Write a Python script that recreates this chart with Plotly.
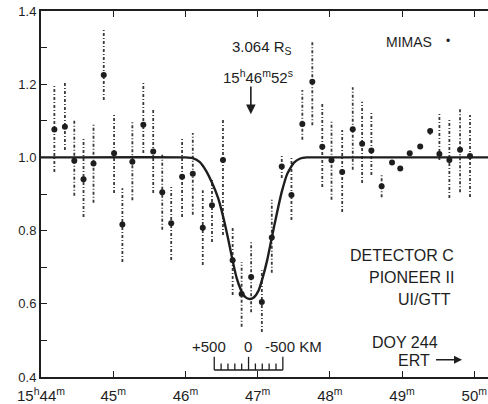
import plotly.graph_objects as go

# Observation times (minutes after 15h) and relative counting rate
t_min = [44.185, 44.331, 44.461, 44.589, 44.727, 44.869, 45.012, 45.127, 45.265, 45.417,
         45.554, 45.679, 45.803, 45.954, 46.102, 46.240, 46.368, 46.520, 46.654, 46.778,
         46.910, 47.058, 47.196, 47.334, 47.468, 47.619, 47.757, 47.895, 48.023, 48.171,
         48.317, 48.447, 48.575, 48.717, 48.861, 48.975, 49.106, 49.251, 49.389, 49.517,
         49.655, 49.803, 49.941]
rate = [1.076, 1.084, 0.991, 0.940, 0.983, 1.225, 1.011, 0.817, 0.988, 1.089,
        1.016, 0.905, 0.820, 0.947, 0.955, 0.808, 0.869, 0.993, 0.719, 0.627,
        0.673, 0.605, 0.781, 0.975, 0.897, 1.091, 1.207, 1.029, 0.992, 0.960,
        1.077, 1.037, 1.019, 0.921, 0.986, 0.970, 1.011, 1.030, 1.072, 1.009,
        0.993, 1.021, 1.004]
err_plus = [0.122, 0.119, 0.114, 0.110, 0.109, 0.123, 0.110, 0.099, 0.111, 0.117,
            0.119, 0.107, 0.099, 0.106, 0.112, 0.102, 0.070, 0.109, 0.091, 0.087,
            0.096, 0.087, 0.103, 0.032, 0.104, 0.093, 0.113, 0.119, 0.111, 0.115,
            0.115, 0.115, 0.105, 0.030, 0.0, 0.0, 0.0, 0.0, 0.010, 0.113,
            0.109, 0.114, 0.112]
err_minus = [0.116, 0.064, 0.096, 0.103, 0.107, 0.068, 0.108, 0.103, 0.105, 0.077,
             0.113, 0.103, 0.100, 0.110, 0.112, 0.102, 0.100, 0.205, 0.095, 0.090,
             0.096, 0.082, 0.096, 0.031, 0.068, 0.043, 0.119, 0.110, 0.108, 0.109,
             0.111, 0.107, 0.067, 0.030, 0.0, 0.0, 0.0, 0.0, 0.010, 0.016,
             0.104, 0.116, 0.112]

# Fitted occultation profile
fit_min = [44.0, 46.0, 46.10, 46.20, 46.29, 46.37, 46.451, 46.520, 46.589, 46.651, 46.71,
           46.768, 46.83, 46.892, 46.95, 47.016, 47.075, 47.133, 47.195, 47.264, 47.333,
           47.41, 47.50, 47.59, 47.68, 47.80, 50.19]
fit_val = [1.0, 1.0, 0.998, 0.987, 0.962, 0.93, 0.89, 0.84, 0.78, 0.72, 0.67,
           0.638, 0.618, 0.613, 0.618, 0.638, 0.675, 0.72, 0.78, 0.845, 0.905,
           0.955, 0.985, 0.997, 1.0, 1.0, 1.0]

x_ticks = [44, 45, 46, 47, 48, 49, 50]
x_ticktext = ["15<sup>h</sup>44<sup>m</sup>", "45<sup>m</sup>", "46<sup>m</sup>", "47<sup>m</sup>",
              "48<sup>m</sup>", "49<sup>m</sup>", "50<sup>m</sup>"]
y_ticks = [0.4, 0.5, 0.6, 0.7, 0.8, 0.9, 1.0, 1.1, 1.2, 1.3, 1.4]
y_ticktext = ["0.4", "", "0.6", "", "0.8", "", "1.0", "", "1.2", "", "1.4"]

# km scale bar
scale_km = [500, 400, 300, 200, 100, 0, -100, -200, -300, -400, -500]
scale_center_min = 46.874
min_per_km = 0.475 / 500.0

INK = "#1e1e1e"
FONT = "Liberation Sans"

fig = go.Figure()

# dotted error bars
ex, ey = [], []
for t, v, p, m in zip(t_min, rate, err_plus, err_minus):
    if p + m > 0:
        ex += [t, t, None]
        ey += [v - m, v + p, None]
fig.add_trace(go.Scatter(x=ex, y=ey, mode="lines",
                         line=dict(color="#3a3a3a", width=1.8, dash="3px,2px,1px,2px"),
                         hoverinfo="skip"))

fig.add_trace(go.Scatter(x=fit_min, y=fit_val, mode="lines",
                         line=dict(color=INK, width=2.4, shape="spline", smoothing=0.5)))

fig.add_trace(go.Scatter(x=t_min, y=rate, mode="markers",
                         marker=dict(color=INK, size=6)))

shapes = []
base_y = 0.419
x_left = scale_center_min + scale_km[0] * min_per_km
x_right = scale_center_min + scale_km[-1] * min_per_km
shapes.append(dict(type="line", x0=x_left, x1=x_right, y0=base_y, y1=base_y,
                   line=dict(color=INK, width=1.5)))
for km in scale_km:
    xx = scale_center_min + km * min_per_km
    h = 0.036 if km in (500, 0, -500) else 0.018
    shapes.append(dict(type="line", x0=xx, x1=xx, y0=base_y, y1=base_y + h,
                       line=dict(color=INK, width=1.3)))

ann = []
def txt(x, y, s, size=15, xanchor="center"):
    ann.append(dict(x=x, y=y, text=s, showarrow=False, xanchor=xanchor, yanchor="middle",
                    font=dict(family=FONT, size=size, color=INK)))

txt(47.06, 1.299, "3.064 R<sub>S</sub>", 15)
txt(47.00, 1.222, "15<sup>h</sup>46<sup>m</sup>52<sup>s</sup>", 15)
ann.append(dict(x=46.906, y=1.118, ax=46.906, ay=1.198, axref="x", ayref="y",
                showarrow=True, arrowhead=2, arrowsize=1.2, arrowwidth=1.6, arrowcolor=INK, text=""))
txt(49.10, 1.315, "MIMAS", 14)
txt(49.64, 1.318, "•", 12)
txt(49.74, 0.731, "DETECTOR C", 16, "right")
txt(49.74, 0.672, "PIONEER II", 16, "right")
txt(49.70, 0.612, "UI/GTT", 16, "right")
txt(49.52, 0.495, "DOY 244", 16, "right")
txt(49.41, 0.446, "ERT", 16, "right")
ann.append(dict(x=49.83, y=0.447, ax=49.45, ay=0.447, axref="x", ayref="y",
                showarrow=True, arrowhead=2, arrowsize=1.0, arrowwidth=1.6, arrowcolor=INK, text=""))
txt(46.33, 0.484, "+500", 15)
txt(46.865, 0.484, "0", 15)
txt(47.49, 0.484, "-500 KM", 15)

fig.update_layout(
    width=488, height=404,
    margin=dict(l=41, r=0, t=11, b=27),
    paper_bgcolor="white", plot_bgcolor="white",
    showlegend=False,
    shapes=shapes, annotations=ann,
    font=dict(family=FONT, color=INK),
)
fig.update_xaxes(range=[44.0, 50.19], tickvals=x_ticks, ticktext=x_ticktext,
                 ticks="inside", ticklen=6, tickwidth=1.3, tickcolor=INK,
                 showline=True, linecolor=INK, linewidth=2, mirror="ticks",
                 showgrid=False, zeroline=False, ticklabeloverflow="allow",
                 ticklabelstandoff=4,
                 tickfont=dict(family=FONT, size=15, color=INK))
fig.update_yaxes(range=[0.4, 1.4], tickvals=y_ticks, ticktext=y_ticktext,
                 ticks="inside", ticklen=6, tickwidth=1.3, tickcolor=INK,
                 showline=True, linecolor=INK, linewidth=2, mirror=False,
                 showgrid=False, zeroline=False,
                 tickfont=dict(family=FONT, size=13, color=INK))

fig.write_html("out.html")
